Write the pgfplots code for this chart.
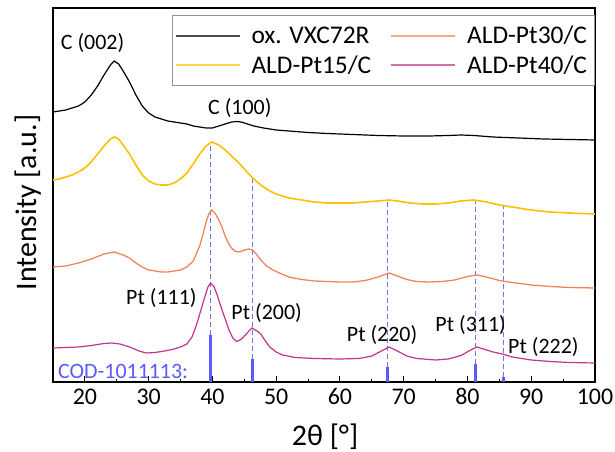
\documentclass[border=0pt]{standalone}
\usepackage{fontspec}
\setmainfont{Carlito}
\usepackage{pgfplots}
\pgfplotsset{compat=1.18}
\definecolor{cyel}{HTML}{FFC000}
\definecolor{corg}{HTML}{F2845C}
\definecolor{cpnk}{HTML}{C2358B}
\definecolor{cbar}{HTML}{5A5AFF}
\definecolor{cdash}{HTML}{7070FF}
\begin{document}
\begin{tikzpicture}
\useasboundingbox (-53bp,-70bp) rectangle (562bp,382bp);
\begin{axis}[
  at={(0,0)}, anchor=south west,
  width=542bp, height=374bp, scale only axis,
  xmin=15, xmax=100, ymin=0, ymax=374,
  xtick={20,30,...,100}, minor x tick num=1,
  xtick pos=bottom, tick align=inside,
  ytick=\empty,
  major tick length=6bp, minor tick length=3bp,
  axis line style={line width=1.2bp},
  every tick/.style={black, line width=1bp},
  tick label style={font=\fontsize{24}{28}\selectfont},
  /pgf/number format/assume math mode=true,
  xticklabel style={yshift=-3bp},
  xlabel={2θ [°]}, ylabel={Intensity [a.u.]},
  label style={font=\fontsize{30}{36}\selectfont},
  xlabel style={at={(axis description cs:0.502,-0.147)}, anchor=center},
  ylabel style={at={(axis description cs:-0.046,0.48)}, anchor=center},
  legend columns=2,
  legend cell align=left,
  legend image code/.code={\draw[#1, line width=2bp, opacity=0.7] (0bp,0bp) -- (64bp,0bp);},
  legend style={at={(axis description cs:0.2196,0.982)}, anchor=north west,
    draw=gray!85, line width=1bp, font=\fontsize{25.5}{30}\selectfont,
    inner xsep=2bp, inner ysep=6bp,
    nodes={inner ysep=5bp, inner xsep=6bp},
    /tikz/every odd column/.append style={column sep=5bp},
    /tikz/every even column/.append style={column sep=13bp}},
]
% reference dashed lines
\addplot[forget plot, cdash, line width=1.2bp, dash pattern=on 5bp off 3bp] coordinates {(39.76,47) (39.76,240)};
\addplot[forget plot, cdash, line width=1.2bp, dash pattern=on 5bp off 3bp] coordinates {(46.24,23) (46.24,205)};
\addplot[forget plot, cdash, line width=1.2bp, dash pattern=on 5bp off 3bp] coordinates {(67.45,15) (67.45,182)};
\addplot[forget plot, cdash, line width=1.2bp, dash pattern=on 5bp off 3bp] coordinates {(81.24,18) (81.24,182)};
\addplot[forget plot, cdash, line width=1.2bp, dash pattern=on 5bp off 3bp] coordinates {(85.71,5) (85.71,176)};
% COD sticks
\addplot[forget plot, ycomb, cbar, line width=3bp] coordinates {(39.76,47) (46.24,23) (67.45,15) (81.24,18) (85.71,5)};
% black
\addplot[black, line width=1.2bp] coordinates {
(15,270) (16,271) (17,272) (18,274) (19,276) (20,280) (21,287) (22,296) (23,307) (24,317) (24.6,321) (25.3,318) (26,311) (27,300) (28,287) (29,276) (30,269) (31,265) (32,263) (33,261) (34,260) (35,259) (36,258) (37,256) (38,255) (39,254) (40,254) (41,256) (42,258) (43,260) (43.8,260.5) (44.5,260) (45.5,258) (46.5,256) (48,254) (50,252) (52,251) (55,249.5) (58,248.5) (62,247.5) (66,246.5) (70,246) (74,246) (77,246.5) (79,247) (81,246.5) (84,245) (88,244) (92,243) (96,242.5) (100,242)};
% orange
\addplot[corg, line width=1.3bp] coordinates {
(15,115) (17,116) (19,119) (21,123) (23,128) (24.6,130) (26,127) (27,124) (28,119) (29,115) (30,112) (31,111) (32,110) (33,110) (34,111) (35,112) (36,115) (37,121) (38,136) (38.5,147) (39,160) (39.5,169) (39.9,172) (40.5,168) (41,162) (41.5,155) (42,146) (42.5,139) (43,134) (43.5,131) (44,130) (44.5,130.5) (45,132) (45.7,133) (46.3,132) (47,127) (47.6,122) (48.5,116) (49.5,112) (50.5,109) (52,105) (54,102.5) (56,101) (58,100.5) (60,100) (62,100) (64,101.5) (66,105) (67.7,109) (69,106) (70.5,102.5) (72,100.5) (74,100) (76,100.5) (78,102) (80,105.5) (81.5,107) (83,105) (85,101.5) (87,99.5) (90,97) (93,95.5) (96,94.5) (100,94)};
% yellow
\addplot[cyel, line width=1.6bp] coordinates {
(15,202) (16,203) (17,205) (18,207) (19,210) (20,214) (21,220) (22,228) (23,236) (24,243) (24.6,245) (25.3,243) (26,237) (27,228) (28,217) (29,207) (30,201) (31,198) (32,197) (33,197) (34,199) (35,203) (36,209) (37,218) (38,228) (39,236) (39.9,240) (41,237) (42,232) (43,226) (44,220) (45,213) (46,206) (47,200) (48,195) (49,191) (50,188) (52,184) (54,182) (56,180) (58,179) (60,179) (62,179) (64,180) (66,181) (67.7,182) (69,181) (71,179) (73,178) (75,178) (77,179) (79,181) (81,182) (83,180) (85,177) (87,175) (90,172) (93,170) (96,169) (100,168)};
% pink
\addplot[cpnk, line width=1.2bp] coordinates {
(15,34) (17,34.5) (19,35) (21,36.5) (23,38.5) (24.2,39) (25.5,38) (27,35) (28.5,31) (29.6,29) (31,29.5) (32.5,31) (34,33) (35,35) (36,38) (36.8,45) (37.5,57) (38.2,72) (38.8,85) (39.3,95) (39.7,99) (40.2,96) (40.7,88) (41.3,76) (42,63) (42.6,52) (43.2,44) (43.8,40.5) (44.5,42.5) (45.3,48) (46.2,54) (47,51) (47.6,48) (48.3,41) (49,35) (50,30) (51,27) (53,24.5) (56,23.5) (60,23) (63,23.5) (65,26) (66.5,31) (67.7,35) (69,31) (70.5,26) (72,23.5) (75,22) (77,23) (79,26.5) (80.5,32) (81.5,35) (82.5,33) (84,30) (85.5,28) (87,25) (90,22) (93,20.5) (96,19.5) (100,19)};
\legend{ox. VXC72R, ALD-Pt30/C, ALD-Pt15/C, ALD-Pt40/C}
% annotations
\node[font=\fontsize{22}{26}\selectfont] at (axis cs:21.2,339) {C (002)};
\node[font=\fontsize{22}{26}\selectfont] at (axis cs:44.3,274) {C (100)};
\node[font=\fontsize{22}{26}\selectfont] at (axis cs:32.0,84) {Pt (111)};
\node[font=\fontsize{22}{26}\selectfont] at (axis cs:48.5,69) {Pt (200)};
\node[font=\fontsize{22}{26}\selectfont] at (axis cs:66.6,47) {Pt (220)};
\node[font=\fontsize{22}{26}\selectfont] at (axis cs:80.5,57) {Pt (311)};
\node[font=\fontsize{22}{26}\selectfont] at (axis cs:91.9,35) {Pt (222)};
\node[font=\fontsize{22}{26}\selectfont, text=cbar] at (axis cs:26.0,11) {COD-1011113:};
\end{axis}
\end{tikzpicture}
\end{document}
